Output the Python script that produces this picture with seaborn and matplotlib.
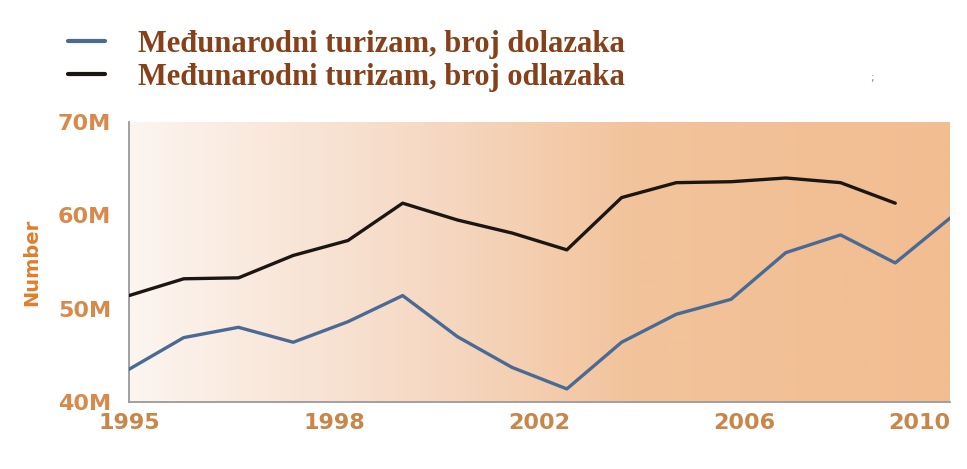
import numpy as np
import pandas as pd
import matplotlib
matplotlib.use("Agg")
import matplotlib.pyplot as plt
from matplotlib.colors import LinearSegmentedColormap
from matplotlib.lines import Line2D
import seaborn as sns

# Data (millions)
years = list(range(1995, 2011))
arrivals = [43.5, 46.9, 48.0, 46.4, 48.6, 51.4, 47.0, 43.7,
            41.4, 46.4, 49.4, 51.0, 56.0, 57.9, 54.9, 59.7]
departures = [51.4, 53.2, 53.3, 55.7, 57.3, 61.3, 59.5, 58.1,
              56.3, 61.9, 63.5, 63.6, 64.0, 63.5, 61.3, np.nan]
series_names = ["Međunarodni turizam, broj dolazaka",
                "Međunarodni turizam, broj odlazaka"]
x_tick_labels = ["1995", "1998", "2002", "2006", "2010"]
y_ticks = [40, 50, 60, 70]
y_tick_labels = ["40M", "50M", "60M", "70M"]

df = pd.DataFrame({
    "Year": years * 2,
    "Value": arrivals + departures,
    "Series": [series_names[0]] * len(years) + [series_names[1]] * len(years),
})

sns.set_style("white")
plt.rcParams['font.family'] = ['DejaVu Sans']

fig = plt.figure(figsize=(9.67, 4.69), dpi=100)
ax = fig.add_axes([0.1334, 0.1429, 0.849, 0.597])

# gradient background
bg = LinearSegmentedColormap.from_list(
    "bg", [(0.0, "#fcf5f0"), (0.35, "#f6dac6"), (0.62, "#f2c39b"), (1.0, "#f2bd91")])
grad = np.linspace(0, 1, 512).reshape(1, -1)
ax.imshow(grad, cmap=bg, aspect="auto", extent=[0, 1, 0, 1],
          transform=ax.transAxes, zorder=0)

palette = {series_names[0]: "#4a6a94", series_names[1]: "#1c1612"}
sns.lineplot(data=df, x="Year", y="Value", hue="Series", palette=palette,
             linewidth=2.4, ax=ax, legend=False, zorder=3)

ax.set_xlim(1995, 2010)
ax.set_ylim(40, 70)
ax.set_xticks(np.linspace(1995, 2010, 5))
ax.set_xticklabels(x_tick_labels)
ax.get_xticklabels()[-1].set_horizontalalignment("right")
ax.set_yticks(y_ticks)
ax.set_yticklabels(y_tick_labels)

for s in ["top", "right"]:
    ax.spines[s].set_visible(False)
for s in ["left", "bottom"]:
    ax.spines[s].set_color("#9a9a9a")
    ax.spines[s].set_linewidth(1.3)

ax.tick_params(axis="x", direction="out", length=6, width=1.2, color="#9a9a9a",
               pad=2, labelsize=16, labelcolor="#c8864a")
ax.tick_params(axis="y", length=0, pad=13, labelsize=16, labelcolor="#d98a4a")
for lbl in ax.get_yticklabels() + ax.get_xticklabels():
    lbl.set_fontweight("bold")

ax.set_xlabel("")
ax.set_ylabel("Number", fontsize=14, fontweight="bold", color="#e07e2a", labelpad=12)

handles = [Line2D([], [], color=palette[n], linewidth=3) for n in series_names]
fig.legend(handles, series_names, loc="upper left",
           bbox_to_anchor=(68 / 967, 1 - 30 / 469), frameon=False,
           borderpad=0, borderaxespad=0, handlelength=1.2, handletextpad=1.08,
           labelspacing=0.13,
           prop={"family": "Liberation Serif", "weight": "bold", "size": 22},
           labelcolor="#86401a")

fig.text(872 / 967, 1 - 78 / 469, ";", fontsize=8, color="#888888",
         ha="center", va="center")

fig.savefig("out.png", dpi=100)
